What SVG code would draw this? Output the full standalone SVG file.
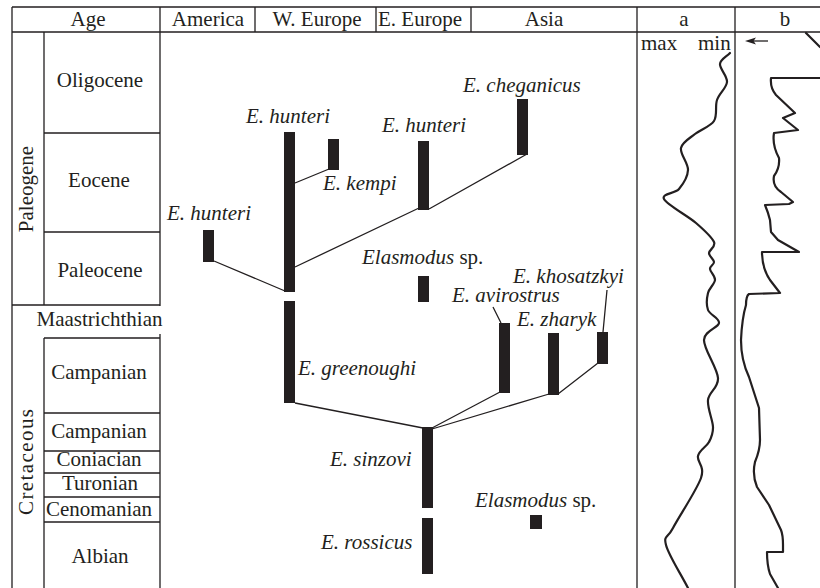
<svg xmlns="http://www.w3.org/2000/svg" width="820" height="588" viewBox="0 0 820 588">
<style>
text{font-family:"Liberation Serif","Times New Roman",serif;font-size:21px;fill:#231f20}
.c{text-anchor:middle}
.i{font-style:italic}
.ln{stroke:#231f20;stroke-width:1.3;fill:none}
.con{stroke:#231f20;stroke-width:1.3;fill:none}
.bar{fill:#231f20}
.cv{stroke:#231f20;stroke-width:2.2;fill:none;stroke-linejoin:round;stroke-linecap:round}
</style>
<rect width="820" height="588" fill="#fff"/>
<g id="table">
<path class="ln" d="M12,7H820M12,32H820M12,7V588M160,7V306M160,334V588M637,7V588M735,7V588M255,7V32M376,7V32M471,7V32M44,32V305M44,338V588"/>
<path class="ln" d="M44,133H160M44,232H160M12,305H160M44,338H160M44,413H160M44,451H160M44,473H160M44,497H160M44,522H160"/>
<text class="c" x="88" y="26">Age</text>
<text class="c" x="208" y="26">America</text>
<text class="c" x="317" y="26">W. Europe</text>
<text x="378" y="26">E. Europe</text>
<text class="c" x="544" y="26">Asia</text>
<text class="c" x="684" y="26">a</text>
<text class="c" x="785" y="26">b</text>
<text transform="translate(33,189) rotate(-90)" class="c">Paleogene</text>
<text transform="translate(33,462) rotate(-90)" class="c" textLength="106" lengthAdjust="spacing">Cretaceous</text>
<text class="c" x="100" y="87">Oligocene</text>
<text class="c" x="99" y="187">Eocene</text>
<text class="c" x="100" y="277">Paleocene</text>
<text class="c" x="99.5" y="326">Maastrichthian</text>
<text class="c" x="99" y="379">Campanian</text>
<text class="c" x="99" y="438">Campanian</text>
<text class="c" x="99" y="466">Coniacian</text>
<text class="c" x="100" y="490">Turonian</text>
<text class="c" x="99" y="516">Cenomanian</text>
<text class="c" x="100" y="563">Albian</text>
</g>
<g id="connectors">
<path class="con" d="M214,261L285,291M295,183L329,169M295,267L419,208M429,209L527,154M295,403L423,428M432,428L500,392M432,429L549,394M558,394L598,363M493,307L501,323M607,290L603,332"/>
</g>
<g id="n-hunteri-am"><rect class="bar" x="203" y="230" width="11" height="32"/><text class="i" x="167" y="220">E. hunteri</text></g>
<g id="n-hunteri-we"><rect class="bar" x="284" y="132" width="11" height="160"/><text class="i" x="246" y="123">E. hunteri</text></g>
<g id="n-kempi"><rect class="bar" x="328" y="139" width="11" height="31"/><text class="i" x="323" y="190">E. kempi</text></g>
<g id="n-hunteri-ee"><rect class="bar" x="418" y="141" width="11" height="69"/><text class="i" x="382" y="132">E. hunteri</text></g>
<g id="n-cheganicus"><rect class="bar" x="517" y="99" width="11" height="56"/><text class="i" x="463" y="92">E. cheganicus</text></g>
<g id="n-elasmodus1"><rect class="bar" x="418" y="276" width="11" height="26"/><text x="362" y="264"><tspan class="i">Elasmodus</tspan> sp.</text></g>
<g id="n-greenoughi"><rect class="bar" x="284" y="301" width="11" height="102"/><text class="i" x="298" y="375">E. greenoughi</text></g>
<g id="n-avirostrus"><rect class="bar" x="499" y="323" width="11" height="70"/><text class="i" x="452" y="302">E. avirostrus</text></g>
<g id="n-zharyk"><rect class="bar" x="548" y="333" width="11" height="62"/><text class="i" x="517" y="326">E. zharyk</text></g>
<g id="n-khosatzkyi"><rect class="bar" x="597" y="332" width="11" height="32"/><text class="i" x="513" y="283">E. khosatzkyi</text></g>
<g id="n-sinzovi"><rect class="bar" x="422" y="427" width="11" height="81"/><text class="i" x="330" y="466">E. sinzovi</text></g>
<g id="n-rossicus"><rect class="bar" x="422" y="518" width="11" height="56"/><text class="i" x="321" y="549">E. rossicus</text></g>
<g id="n-elasmodus2"><rect class="bar" x="530" y="515" width="12" height="14"/><text x="475" y="507"><tspan class="i">Elasmodus</tspan> sp.</text></g>
<g id="curve-a">
<text x="641" y="50">max</text>
<text x="698" y="50">min</text>
<path class="cv" d="M730,53 C726.7,56.7 720.5,59.2 720,64 S727.5,76 727,82 S719.2,93.5 717,100 S717.7,115.3 714,121 S700.5,129.5 695,134 S682.2,142 681,148 S688.3,163.2 688,170 S683,184.2 679,189 S661.2,193.3 664,199 S687.7,215.8 696,223 S711.8,237 714,242 S709,249.7 709,253 S713.8,259.3 714,262 S709.8,266 710,269 S715.3,276 715,280 S709.2,288 708,293 S706.2,305 708,310 S719.7,318 719,323 S704.2,330.8 704,340 S717.3,368 718,378 S708.8,391.8 708,400 S712.8,420 713,427 S711.5,437.2 709,442 S699.3,450 698,456 S705.2,466 701,478 S678.8,516.8 673,528 S663.5,535 666,545 S680.7,573.7 688,588"/>
</g>
<g id="curve-b">
<path class="cv" d="M820,78 L771,78 Q770,88 776,95 L795,113 L783,118 L798,130 L774,133 Q772,145 779,158 Q780,168 774,176 Q772,186 781,192 L793,202 L789,204 L765,205 Q768,212 770,220 L771,232 L778,240 L799,252 L762,252 Q762,268 770,280 L780,293 L749,294 Q746,296 746,305 Q742,318 741,340 Q741,360 749,377 L759,408 L760,440 Q760,450 755,462 Q752,475 757,487 L769,505 L781,530 Q783,535 783,545 L783,552 L767,552 Q767,565 770,574 L778,588"/>
<path class="cv" d="M806,33 L820,47"/>
<path class="ln" d="M752,41H768"/>
<polygon fill="#231f20" points="745,41 756,37.5 753.5,41 756,44.5"/>
</g>
</svg>
